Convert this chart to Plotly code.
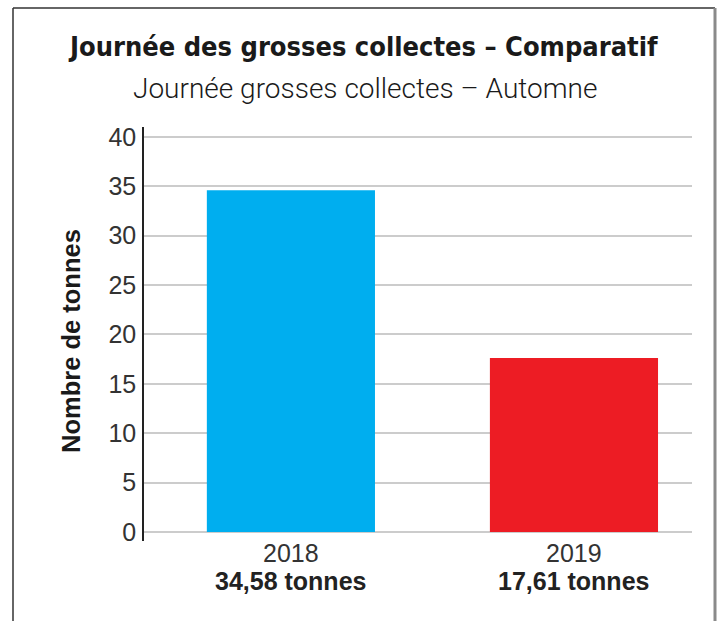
import plotly.graph_objects as go

# ---- data ----
years = ["2018", "2019"]
tonnes = [34.58, 17.61]
bar_colors = ["#00AEEF", "#ED1C24"]
y_ticks = [0, 5, 10, 15, 20, 25, 30, 35, 40]

title = "Journée des grosses collectes – Comparatif"
subtitle = "Journée grosses collectes – Automne"
y_title = "Nombre de tonnes"

value_labels = [f"{v:.2f}".replace(".", ",") + " tonnes" for v in tonnes]

# ---- layout geometry (pixels) ----
W, H = 717, 621
L, R, T, B = 144, 692, 127, 541
pw, ph = R - L, B - T


def px(x):
    return (x - L) / pw


def py(y):
    return (B - y) / ph


fig = go.Figure()
fig.add_trace(go.Bar(
    x=years, y=tonnes, marker_color=bar_colors, marker_line_width=0,
    width=0.594, hoverinfo="x+y",
))

annotations = [
    dict(text=f"<b>{title}</b>", x=px(363), y=py(46), xref="paper", yref="paper",
         showarrow=False, xanchor="center", yanchor="middle",
         font=dict(family="DejaVu Sans Condensed", size=27, color="#1a1a1a")),
    dict(text=subtitle, x=px(365), y=py(88), xref="paper", yref="paper",
         showarrow=False, xanchor="center", yanchor="middle",
         font=dict(family="Roboto", size=28, weight=300, color="#1a1a1a")),
    dict(text=f"<b>{y_title}</b>", x=px(71), y=py(341), xref="paper", yref="paper",
         showarrow=False, textangle=-90, xanchor="center", yanchor="middle",
         font=dict(family="Liberation Sans", size=25.5, color="#1a1a1a")),
]
for i, (yr, lab) in enumerate(zip(years, value_labels)):
    annotations.append(dict(
        text=yr, x=i, y=py(553), xref="x", yref="paper",
        showarrow=False, xanchor="center", yanchor="middle",
        font=dict(family="Liberation Sans", size=25, color="#333333")))
    annotations.append(dict(
        text=f"<b>{lab}</b>", x=i, y=py(581), xref="x", yref="paper",
        showarrow=False, xanchor="center", yanchor="middle",
        font=dict(family="Liberation Sans", size=25, color="#222222")))

shapes = [
    dict(type="line", xref="paper", yref="paper", x0=px(13), x1=px(13),
         y0=py(8), y1=py(630), line=dict(color="#333333", width=1.5)),
    dict(type="line", xref="paper", yref="paper", x0=px(13), x1=px(715),
         y0=py(8), y1=py(8), line=dict(color="#333333", width=1.5)),
    dict(type="line", xref="paper", yref="paper", x0=px(715), x1=px(715),
         y0=py(8), y1=py(630), line=dict(color="#8a8a8a", width=3)),
]

fig.update_layout(
    width=W, height=H,
    margin=dict(l=L, r=W - R, t=T, b=H - B, pad=0),
    paper_bgcolor="white", plot_bgcolor="white",
    showlegend=False,
    annotations=annotations,
    shapes=shapes,
    font=dict(family="Liberation Sans", color="#333333"),
)
fig.update_xaxes(
    type="category", range=[-0.519, 1.417],
    showgrid=False, showline=False, zeroline=False, ticks="",
    showticklabels=False,
)
fig.update_yaxes(
    range=[-(B - 532) / 9.88, (532 - T) / 9.88],
    tickvals=y_ticks, ticktext=[str(t) for t in y_ticks],
    showgrid=True, gridcolor="#cccccc", gridwidth=1.5,
    zeroline=False, showline=True, linecolor="#222222", linewidth=1.5,
    ticks="", ticklabelstandoff=1,
    tickfont=dict(family="Liberation Sans", size=25, color="#333333"),
)

fig.write_html("out.html", config={"displayModeBar": False},
               post_script="document.body.style.margin='0';document.body.style.padding='0';")
